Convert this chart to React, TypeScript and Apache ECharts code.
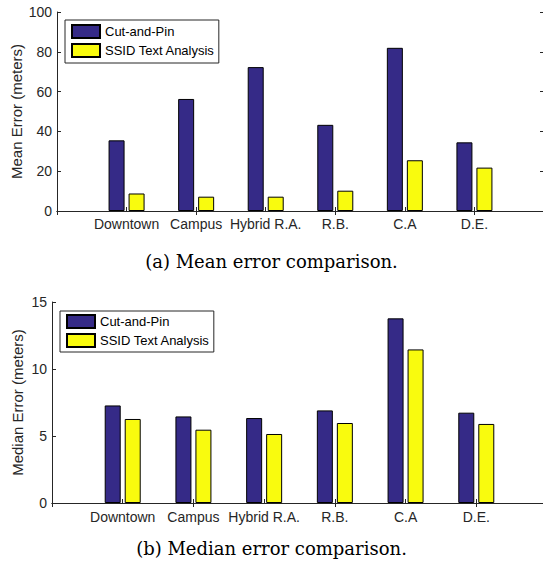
import React, { useEffect, useRef } from "react";
import * as echarts from "echarts";

const categories = ["", "Downtown", "Campus", "Hybrid R.A.", "R.B.", "C.A", "D.E.", ""];
const seriesNames = ["Cut-and-Pin", "SSID Text Analysis"];
const meanCutAndPin = [35.5, 56.3, 72.3, 43.3, 82.0, 34.5];
const meanSsid = [8.8, 7.2, 7.2, 10.2, 25.5, 21.8];
const medianCutAndPin = [7.28, 6.46, 6.34, 6.91, 13.78, 6.74];
const medianSsid = [6.27, 5.47, 5.15, 5.97, 11.46, 5.9];
const meanAxis = { min: 0, max: 100, interval: 20, name: "Mean Error (meters)" };
const medianAxis = { min: 0, max: 15, interval: 5, name: "Median Error (meters)" };
const captions = ["(a) Mean error comparison.", "(b) Median error comparison."];

const AXIS_COLOR = "#262626";
const SANS = "Liberation Sans";
const BLUE = "#352a87";
const YELLOW = "#f9fb0e";

const pad = (arr: number[]) => ["-", ...arr, "-"];

function xAxes(gridIndex: number, margin: number) {
  return [
    {
      gridIndex,
      type: "category",
      data: categories,
      boundaryGap: false,
      position: "bottom",
      axisLine: { show: true, lineStyle: { color: AXIS_COLOR, width: 1 } },
      axisTick: { show: true, inside: true, length: 4, lineStyle: { color: AXIS_COLOR } },
      axisLabel: { interval: 0, margin, fontSize: 14, color: AXIS_COLOR, fontFamily: SANS },
      splitLine: { show: false },
    },
    {
      gridIndex,
      type: "category",
      data: categories,
      boundaryGap: false,
      position: "top",
      axisLine: { show: true, lineStyle: { color: AXIS_COLOR, width: 1 } },
      axisTick: { show: true, inside: true, length: 4, lineStyle: { color: AXIS_COLOR } },
      axisLabel: { show: false },
      splitLine: { show: false },
    },
  ];
}

function yAxes(gridIndex: number, cfg: { min: number; max: number; interval: number; name: string }, nameGap: number) {
  return [
    {
      gridIndex,
      type: "value",
      min: cfg.min,
      max: cfg.max,
      interval: cfg.interval,
      position: "left",
      name: cfg.name,
      nameLocation: "middle",
      nameGap,
      nameMoveOverlap: false,
      nameTextStyle: { fontSize: 15, color: AXIS_COLOR, fontFamily: SANS },
      axisLine: { show: true, lineStyle: { color: AXIS_COLOR, width: 1 } },
      axisTick: { show: true, inside: true, length: 4, lineStyle: { color: AXIS_COLOR } },
      axisLabel: { margin: 5, fontSize: 14, color: AXIS_COLOR, fontFamily: SANS },
      splitLine: { show: false },
    },
    {
      gridIndex,
      type: "value",
      min: cfg.min,
      max: cfg.max,
      interval: cfg.interval,
      position: "right",
      axisLine: { show: true, lineStyle: { color: AXIS_COLOR, width: 1 } },
      axisTick: { show: true, inside: true, length: 4, lineStyle: { color: AXIS_COLOR } },
      axisLabel: { show: false },
      splitLine: { show: false },
    },
  ];
}

function bars(xAxisIndex: number, yAxisIndex: number, a: number[], b: number[]) {
  const common = {
    type: "bar",
    xAxisIndex,
    yAxisIndex,
    barWidth: 16,
    barGap: "25%",
  };
  return [
    { ...common, name: seriesNames[0], data: pad(a), itemStyle: { color: BLUE, borderColor: "#000", borderWidth: 1 } },
    { ...common, name: seriesNames[1], data: pad(b), itemStyle: { color: YELLOW, borderColor: "#000", borderWidth: 1 } },
  ];
}

function legend(left: number, top: number, padding: number[]) {
  return {
    data: seriesNames,
    orient: "vertical",
    left,
    top,
    icon: "rect",
    itemWidth: 28,
    itemHeight: 13,
    itemGap: 4,
    padding,
    borderColor: AXIS_COLOR,
    borderWidth: 1,
    backgroundColor: "#fff",
    selectedMode: false,
    textStyle: { fontSize: 13, color: "#000", fontFamily: SANS },
  };
}

export default function App() {
  const ref = useRef<HTMLDivElement>(null);
  useEffect(() => {
    document.body.style.margin = "0";
    const chart = echarts.init(ref.current!, undefined, { renderer: "svg" });
    chart.setOption({
      animation: false,
      backgroundColor: "#fff",
      grid: [
        { left: 57, top: 12, width: 487, height: 199, outerBoundsMode: "none", containLabel: false },
        { left: 52, top: 302, width: 495, height: 201, outerBoundsMode: "none", containLabel: false },
      ],
      xAxis: [...xAxes(0, 6), ...xAxes(1, 7)],
      yAxis: [...yAxes(0, meanAxis, 33), ...yAxes(1, medianAxis, 27)],
      legend: [legend(65, 20, [4, 4, 5, 6]), legend(60, 311, [3, 4, 4, 6])],
      series: [...bars(0, 0, meanCutAndPin, meanSsid), ...bars(2, 2, medianCutAndPin, medianSsid)],
      graphic: [
        {
          type: "text",
          left: "center",
          top: 252,
          style: { text: captions[0], font: '18px "DejaVu Serif"', fill: "#000" },
        },
        {
          type: "text",
          left: "center",
          top: 539,
          style: { text: captions[1], font: '18px "DejaVu Serif"', fill: "#000" },
        },
      ],
    });
    return () => chart.dispose();
  }, []);
  return <div ref={ref} style={{ width: 543, height: 565 }} />;
}
